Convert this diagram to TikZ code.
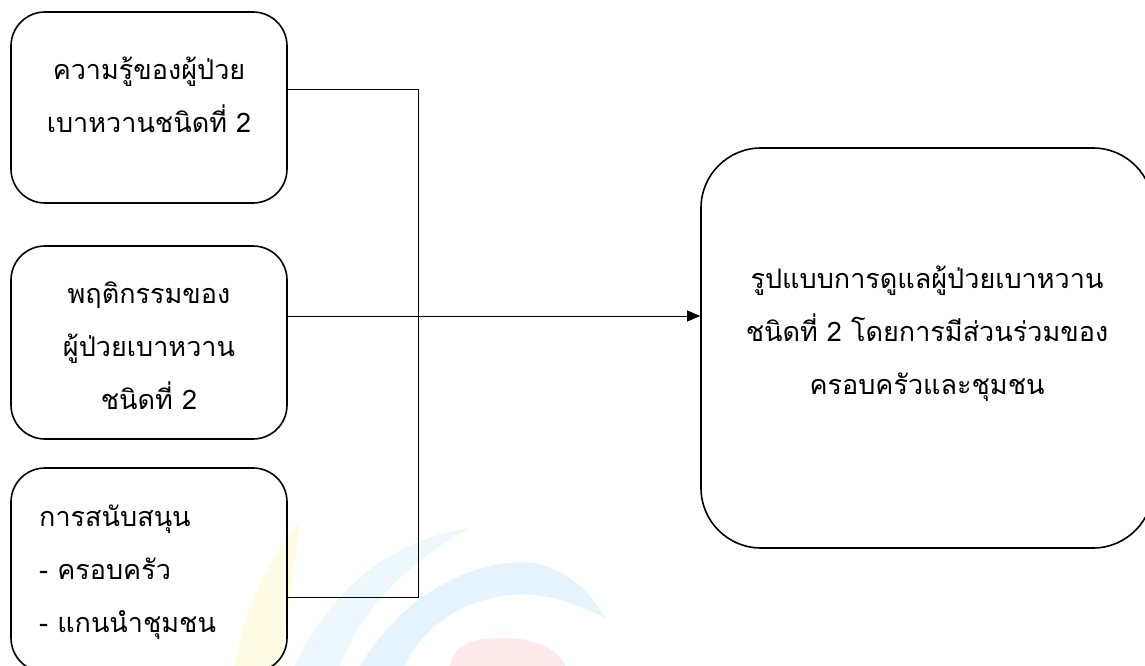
\documentclass[tikz,border=0pt]{standalone}
\usepackage{fontspec}
\newfontfamily\thaifont[Script=Thai]{Loma}
\usetikzlibrary{arrows.meta}
\definecolor{wmblue}{RGB}{228,243,253}
\definecolor{wmblue2}{RGB}{236,247,254}
\definecolor{wmred}{RGB}{253,232,234}
\definecolor{wmyellow}{RGB}{254,253,228}
\tikzset{
  box/.style={draw=black, line width=1.6pt, rounded corners=34pt, rectangle, inner sep=0pt},
  bigbox/.style={box, rounded corners=60pt},
  txt/.style={inner sep=0pt, font=\thaifont\fontsize{27}{53}\selectfont},
  link/.style={draw=black, line width=0.9pt},
  arr/.style={link, -{Triangle[length=13pt,width=11pt]}}
}
\begin{document}
\begin{tikzpicture}[x=1pt,y=-1pt]
\useasboundingbox (0,0) rectangle (1145,666);
% faint watermark
\fill[wmyellow] (235,666) .. controls (245,600) and (270,560) .. (300,520) .. controls (295,570) and (285,620) .. (280,666) -- cycle;
\fill[wmblue2] (295,666) .. controls (330,590) and (390,540) .. (470,528) .. controls (410,560) and (360,610) .. (340,666) -- cycle;
\fill[wmblue] (360,666) .. controls (400,600) and (460,565) .. (520,562) .. controls (560,562) and (590,590) .. (605,618) .. controls (570,600) and (540,592) .. (510,595) .. controls (460,600) and (420,630) .. (405,666) -- cycle;
\fill[wmred] (450,666) .. controls (455,640) and (480,638) .. (505,638) .. controls (535,638) and (560,650) .. (565,666) -- cycle;
% boxes
\node[box, minimum width=276pt, minimum height=191pt] (b1) at (149,107.5) {};
\node[box, minimum width=276pt, minimum height=193pt] (b2) at (149,342.5) {};
\node[box, minimum width=276pt, minimum height=204pt] (b3) at (149,570) {};
\node[bigbox, minimum width=452pt, minimum height=400pt] (b4) at (927,348) {};
% texts
\node[txt, align=center] (t1) at (149,95) {ความรู้ของผู้ป่วย\\เบาหวานชนิดที่ 2};
\node[txt, align=center] (t2) at (149,346) {พฤติกรรมของ\\ผู้ป่วยเบาหวาน\\ชนิดที่ 2};
\node[txt, align=left, anchor=west] (t3) at (39,572) {การสนับสนุน\\- ครอบครัว\\- แกนนำชุมชน};
\node[txt, align=center] (t4) at (927,334) {รูปแบบการดูแลผู้ป่วยเบาหวาน\\ชนิดที่ 2 โดยการมีส่วนร่วมของ\\ครอบครัวและชุมชน};
% connectors
\coordinate (j1) at (418,89);
\coordinate (j3) at (418,597);
\coordinate (m) at (500,316);
\draw[link] (b1.east |- j1) -- (j1) -- (j3) -- (b3.east |- j3);
\draw[arr] (b2.east |- m) -- (b4.west |- m);
\end{tikzpicture}
\end{document}
